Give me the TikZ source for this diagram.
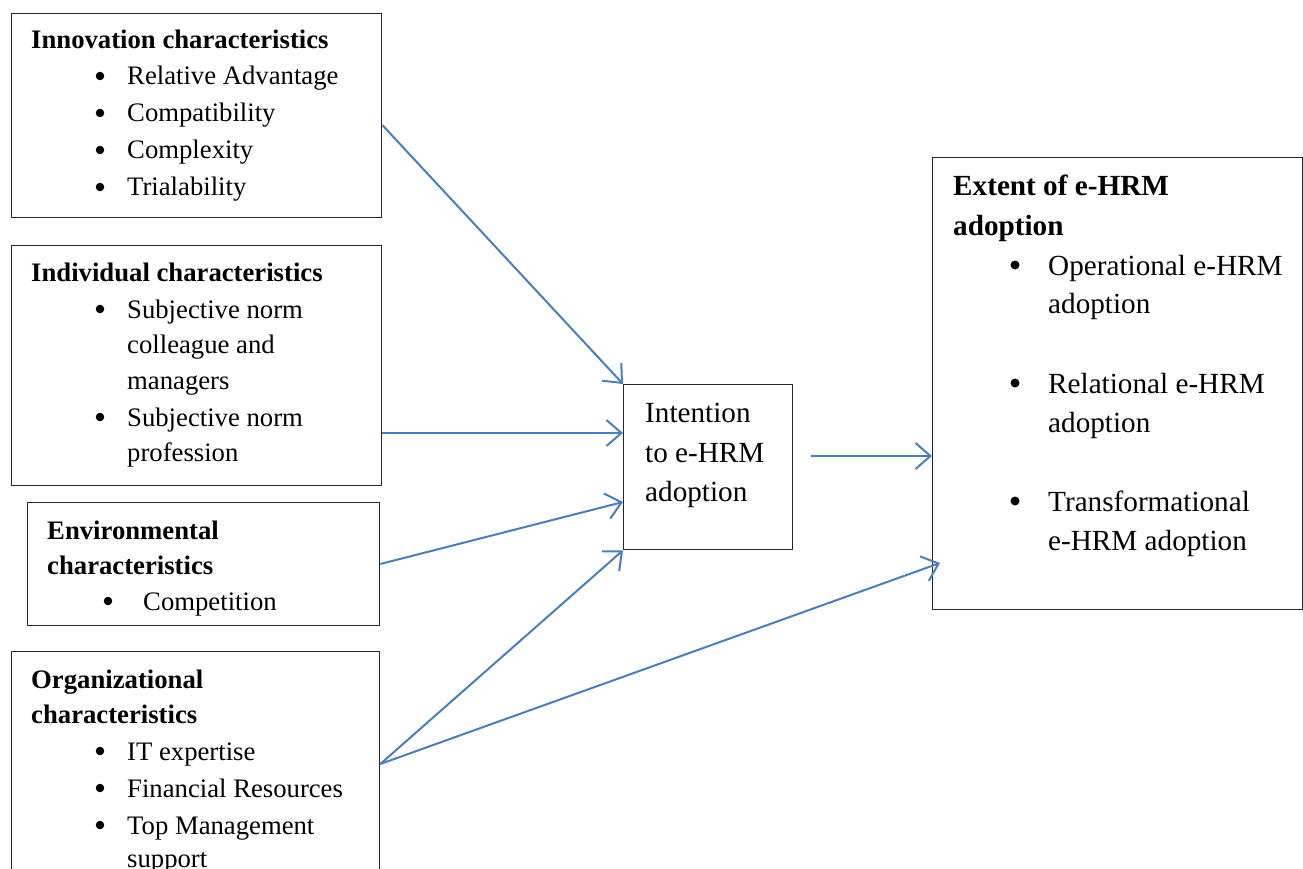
\documentclass[tikz,border=0pt]{standalone}
\usepackage{fontspec}
\setmainfont{Liberation Serif}
\usepackage{xcolor}
\usetikzlibrary{arrows.meta, calc}
\definecolor{arrowblue}{HTML}{4A7EBB}
\definecolor{edge}{HTML}{262626}

\tikzset{
  box/.style={draw=edge, line width=1.3pt, anchor=north west, inner sep=0pt},
  txt/.style={anchor=base west, inner sep=0pt, font=\fontsize{26.7}{32}\selectfont},
  head/.style={txt, font=\fontsize{26.7}{32}\selectfont\bfseries},
  bul/.style={circle, fill=black, inner sep=0pt, minimum size=8.5pt, yshift=9pt},
  bigtxt/.style={txt, font=\fontsize{29.2}{35}\selectfont},
  bighead/.style={txt, font=\fontsize{29.2}{35}\selectfont\bfseries},
  bigbul/.style={circle, fill=black, inner sep=0pt, minimum size=9pt, yshift=10pt},
  link/.style={draw=arrowblue, line width=2pt, -{Straight Barb[length=15pt, width=26pt, line width=2pt]}}
}

\begin{document}
\begin{tikzpicture}[x=1pt, y=-1pt]
\useasboundingbox (0,0) rectangle (1303,869);
\clip (0,0) rectangle (1303,869);

% boxes
\node[box, minimum width=370, minimum height=204] (innov) at (11,13) {};
\node[box, minimum width=370, minimum height=240] (indiv) at (11,245) {};
\node[box, minimum width=352, minimum height=123] (envir) at (27,502) {};
\node[box, minimum width=368, minimum height=240] (organ) at (11,651) {};
\node[box, minimum width=169, minimum height=165] (intent) at (623,384) {};
\node[box, minimum width=370, minimum height=452] (extent) at (932,157) {};

% innovation characteristics
\node[head] at (31,49) {Innovation characteristics};
\foreach \yy/\txt in {85/Relative Advantage, 122/Compatibility, 159/Complexity, 196/Trialability}{
  \node[bul] at (100,\yy) {};
  \node[txt] at (127,\yy) {\txt};
}

% individual characteristics
\node[head] at (31,281) {Individual characteristics};
\foreach \yy in {318,426}
  \node[bul] at (100,\yy) {};
\foreach \yy/\txt in {318/Subjective norm, 353/colleague and, 389/managers, 426/Subjective norm, 461/profession}
  \node[txt] at (127,\yy) {\txt};

% environmental characteristics
\node[head] at (47,539) {Environmental};
\node[head] at (47,574) {characteristics};
\node[bul] at (108,610) {};
\node[txt] at (143,610) {Competition};

% organizational characteristics
\node[head] at (31,688) {Organizational};
\node[head] at (31,723) {characteristics};
\foreach \yy in {760,797,834}
  \node[bul] at (100,\yy) {};
\foreach \yy/\txt in {760/IT expertise, 797/Financial Resources, 834/Top Management, 867/support}
  \node[txt] at (127,\yy) {\txt};

% intention
\foreach \yy/\txt in {422/Intention, 462/to e-HRM, 501/adoption}
  \node[bigtxt] at (645,\yy) {\txt};

% extent of adoption
\node[bighead] at (953,196) {Extent of e-HRM};
\node[bighead] at (953,235) {adoption};
\foreach \yy in {275,393,511}
  \node[bigbul] at (1015,\yy) {};
\foreach \yy/\txt in {275/Operational e-HRM, 313/adoption, 393/Relational e-HRM, 432/adoption, 511/Transformational, 550/e-HRM adoption}
  \node[bigtxt] at (1048,\yy) {\txt};

% connectors
\draw[link] ($(innov.north east)+(0,112)$) -- (intent.north west);
\draw[link] ($(indiv.north east)+(0,188)$) -- ($(intent.north west)+(0,49)$);
\draw[link] ($(envir.north east)+(0,62)$) -- ($(intent.north west)+(0,118)$);
\draw[link] ($(organ.north east)+(0,113)$) -- (intent.south west);
\draw[link] ($(organ.north east)+(0,113)$) -- ($(extent.north west)+(8,406)$);
\draw[link] ($(intent.north east)+(18,72)$) -- ($(extent.north west)+(0,299)$);
\end{tikzpicture}
\end{document}
